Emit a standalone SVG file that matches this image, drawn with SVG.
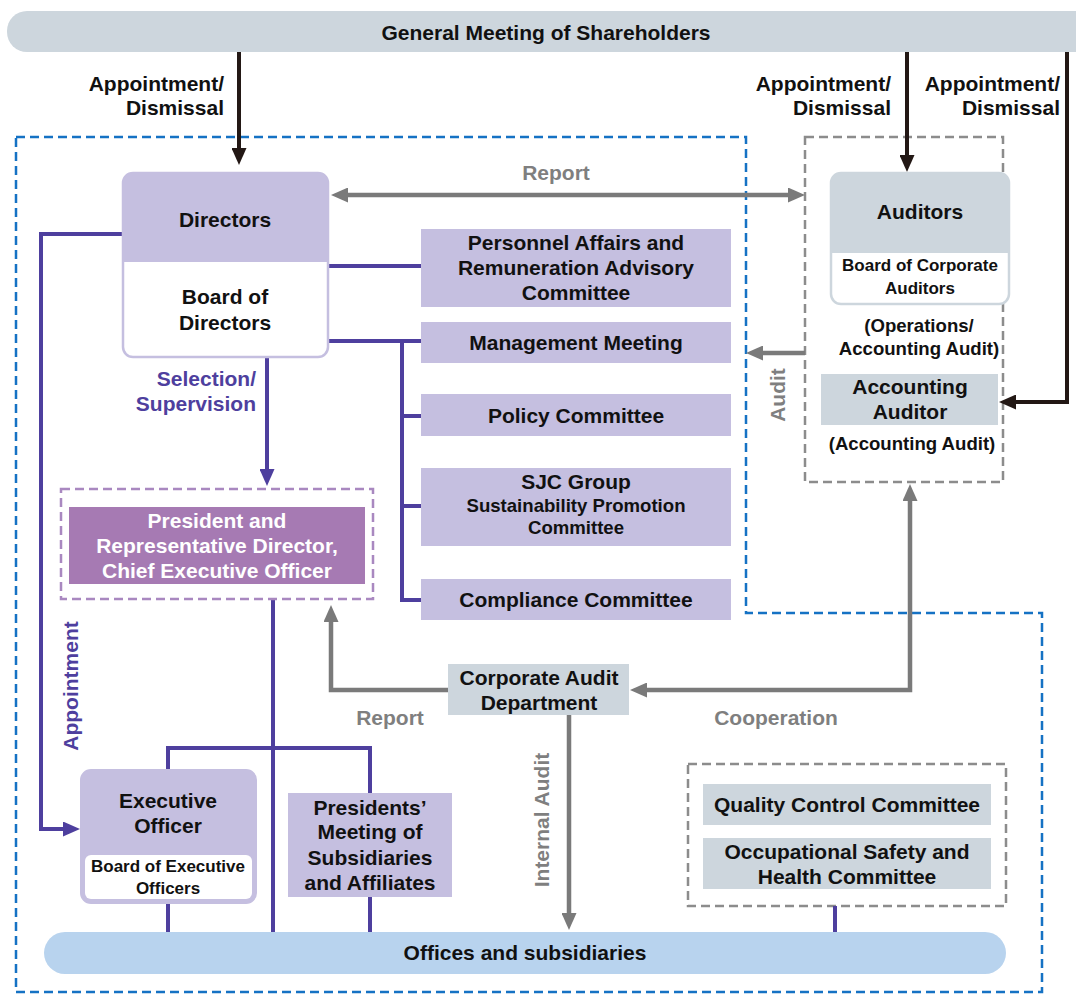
<svg xmlns="http://www.w3.org/2000/svg" width="1076" height="996" viewBox="0 0 1076 996">
  <style>
    text { font-family: "Liberation Sans", Arial, sans-serif; font-weight: bold; font-size: 21px; fill: #111; text-anchor: middle; dominant-baseline: central; }
    .sm { font-size: 17px; }
    .md { font-size: 18.6px; }
    .gray-t { fill: #7f7f7f; }
    .purple-t { fill: #4e3f9e; }
    .white-t { fill: #ffffff; }
    .end { text-anchor: end; }
    .steel { fill: #cdd6dd; }
    .lav { fill: #c5bfe0; }
    .dark { stroke: #231815; stroke-width: 4; fill: none; }
    .grayl { stroke: #7a7a7a; stroke-width: 4.5; fill: none; }
    .pline { stroke: #4e3f9e; stroke-width: 4; fill: none; }
    .blue-dash { stroke: #1572c4; stroke-width: 2.5; fill: none; stroke-dasharray: 9 5; }
    .gray-dash { stroke: #8c8c8c; stroke-width: 2.5; fill: none; stroke-dasharray: 9 5; }
    .lav-dash { stroke: #a988c0; stroke-width: 2.5; fill: none; stroke-dasharray: 9 5; }
  </style>
  <defs>
    <marker id="ahDark" markerUnits="userSpaceOnUse" markerWidth="17" markerHeight="15" refX="2" refY="7.5" orient="auto-start-reverse">
      <path d="M0,0 L17,7.5 L0,15 Z" fill="#231815"/>
    </marker>
    <marker id="ahGray" markerUnits="userSpaceOnUse" markerWidth="17" markerHeight="15" refX="2" refY="7.5" orient="auto-start-reverse">
      <path d="M0,0 L17,7.5 L0,15 Z" fill="#7a7a7a"/>
    </marker>
    <marker id="ahPurple" markerUnits="userSpaceOnUse" markerWidth="17" markerHeight="15" refX="2" refY="7.5" orient="auto-start-reverse">
      <path d="M0,0 L17,7.5 L0,15 Z" fill="#4e3f9e"/>
    </marker>
  </defs>

  <!-- company boundary and auditor / committee frames -->
  <g id="frames">
    <path class="blue-dash" d="M16,137 H746 V613 H1042 V992 H16 Z"/>
    <rect class="gray-dash" x="805" y="137" width="198" height="345"/>
    <rect class="gray-dash" x="688" y="764" width="318" height="142"/>
  </g>

  <!-- connectors -->
  <g id="connectors">
    <!-- shareholders' appointment / dismissal -->
    <line class="dark" x1="239" y1="52" x2="239" y2="150" marker-end="url(#ahDark)"/>
    <line class="dark" x1="907" y1="52" x2="907" y2="157" marker-end="url(#ahDark)"/>
    <path class="dark" d="M1067,52 V402 H1014" marker-end="url(#ahDark)"/>

    <!-- report between auditors and directors -->
    <line class="grayl" x1="346" y1="195" x2="790" y2="195" marker-start="url(#ahGray)" marker-end="url(#ahGray)"/>
    <!-- audit -->
    <line class="grayl" x1="805" y1="353" x2="761" y2="353" marker-end="url(#ahGray)"/>

    <!-- directors to committees -->
    <path class="pline" d="M328,266 H421"/>
    <path class="pline" d="M328,341 H421"/>
    <path class="pline" d="M402,341 V600 H421"/>
    <path class="pline" d="M402,416 H421"/>
    <path class="pline" d="M402,506 H421"/>

    <!-- selection / supervision -->
    <line class="pline" x1="267" y1="357" x2="267" y2="471" marker-end="url(#ahPurple)"/>
    <!-- appointment of executive officers -->
    <path class="pline" d="M122,234 H41 V829 H65" marker-end="url(#ahPurple)"/>

    <!-- president to executive organisation -->
    <path class="pline" d="M273,599 V932"/>
    <path class="pline" d="M168,770 V748 H370 V793"/>
    <path class="pline" d="M168,903 V932"/>
    <path class="pline" d="M370,897 V932"/>
    <path class="pline" d="M835,906 V932"/>

    <!-- corporate audit department -->
    <path class="grayl" d="M448,690 H331 V620" marker-end="url(#ahGray)"/>
    <path class="grayl" d="M910,499 V690 H645" marker-start="url(#ahGray)" marker-end="url(#ahGray)"/>
    <line class="grayl" x1="569" y1="715" x2="569" y2="915" marker-end="url(#ahGray)"/>
  </g>

  <!-- connector labels -->
  <g id="labels">
    <text class="end" x="224" y="83">Appointment/</text>
    <text class="end" x="224" y="107">Dismissal</text>
    <text class="end" x="891" y="83">Appointment/</text>
    <text class="end" x="891" y="107">Dismissal</text>
    <text class="end" x="1060" y="83">Appointment/</text>
    <text class="end" x="1060" y="107">Dismissal</text>
    <text class="gray-t" x="556" y="172">Report</text>
    <text class="gray-t" x="777" y="395" transform="rotate(-90 777 395)">Audit</text>
    <text class="purple-t end" x="256" y="378">Selection/</text>
    <text class="purple-t end" x="256" y="403">Supervision</text>
    <text class="purple-t" x="70" y="686" transform="rotate(-90 70 686)">Appointment</text>
    <text class="gray-t" x="390" y="717">Report</text>
    <text class="gray-t" x="776" y="717">Cooperation</text>
    <text class="gray-t" x="541" y="820" transform="rotate(-90 541 820)">Internal Audit</text>
  </g>

  <g id="shareholders">
    <rect class="steel" x="7" y="11" width="1100" height="41" rx="20"/>
    <text x="546" y="32">General Meeting of Shareholders</text>
  </g>

  <g id="directors">
    <rect x="123" y="173" width="205" height="184" rx="10" fill="#ffffff" stroke="#c5bfe0" stroke-width="2.5"/>
    <path class="lav" d="M123,262 V183 A10,10 0 0 1 133,173 H318 A10,10 0 0 1 328,183 V262 Z"/>
    <text x="225" y="219">Directors</text>
    <text x="225" y="296">Board of</text>
    <text x="225" y="322">Directors</text>
  </g>

  <g id="personnel-committee">
    <rect class="lav" x="421" y="229" width="310" height="78"/>
    <text x="576" y="242">Personnel Affairs and</text>
    <text x="576" y="267">Remuneration Advisory</text>
    <text x="576" y="292">Committee</text>
  </g>

  <g id="management-meeting">
    <rect class="lav" x="421" y="322" width="310" height="41"/>
    <text x="576" y="342">Management Meeting</text>
  </g>

  <g id="policy-committee">
    <rect class="lav" x="421" y="394" width="310" height="42"/>
    <text x="576" y="415">Policy Committee</text>
  </g>

  <g id="sjc-committee">
    <rect class="lav" x="421" y="468" width="310" height="78"/>
    <text x="576" y="481">SJC Group</text>
    <text class="md" x="576" y="505">Sustainability Promotion</text>
    <text class="md" x="576" y="527">Committee</text>
  </g>

  <g id="compliance-committee">
    <rect class="lav" x="421" y="579" width="310" height="41"/>
    <text x="576" y="599">Compliance Committee</text>
  </g>

  <g id="auditors">
    <rect x="831" y="173" width="178" height="131" rx="10" fill="#ffffff" stroke="#cdd6dd" stroke-width="2.5"/>
    <path class="steel" d="M831,253 V183 A10,10 0 0 1 841,173 H999 A10,10 0 0 1 1009,183 V253 Z"/>
    <text x="920" y="211">Auditors</text>
    <text class="sm" x="920" y="265">Board of Corporate</text>
    <text class="sm" x="920" y="288">Auditors</text>
    <text class="md" x="919" y="325">(Operations/</text>
    <text class="md" x="919" y="348">Accounting Audit)</text>
  </g>

  <g id="accounting-auditor">
    <rect class="steel" x="821" y="374" width="177" height="51"/>
    <text x="910" y="386">Accounting</text>
    <text x="910" y="411">Auditor</text>
    <text class="md" x="912" y="443">(Accounting Audit)</text>
  </g>

  <g id="president">
    <rect class="lav-dash" x="61" y="489" width="312" height="110"/>
    <rect x="69" y="507" width="296" height="77" fill="#a67ab3"/>
    <text class="white-t" x="217" y="520">President and</text>
    <text class="white-t" x="217" y="545">Representative Director,</text>
    <text class="white-t" x="217" y="570">Chief Executive Officer</text>
  </g>

  <g id="corporate-audit">
    <rect class="steel" x="448" y="664" width="181" height="51"/>
    <text x="539" y="677">Corporate Audit</text>
    <text x="539" y="702">Department</text>
  </g>

  <g id="executive-officer">
    <rect class="lav" x="81" y="770" width="175" height="133" rx="10" stroke="#c5bfe0" stroke-width="2"/>
    <rect x="85" y="855" width="167" height="44" rx="6" fill="#ffffff"/>
    <text x="168" y="800">Executive</text>
    <text x="168" y="825">Officer</text>
    <text class="sm" x="168" y="866">Board of Executive</text>
    <text class="sm" x="168" y="888">Officers</text>
  </g>

  <g id="presidents-meeting">
    <rect class="lav" x="288" y="793" width="164" height="104"/>
    <text x="370" y="807">Presidents’</text>
    <text x="370" y="831">Meeting of</text>
    <text x="370" y="857">Subsidiaries</text>
    <text x="370" y="882">and Affiliates</text>
  </g>

  <g id="quality-control">
    <rect class="steel" x="703" y="784" width="288" height="41"/>
    <text x="847" y="804">Quality Control Committee</text>
  </g>

  <g id="occupational-safety">
    <rect class="steel" x="703" y="838" width="288" height="51"/>
    <text x="847" y="851">Occupational Safety and</text>
    <text x="847" y="876">Health Committee</text>
  </g>

  <g id="offices">
    <rect x="44" y="932" width="962" height="42" rx="21" fill="#b8d3ee"/>
    <text x="525" y="952">Offices and subsidiaries</text>
  </g>
</svg>
